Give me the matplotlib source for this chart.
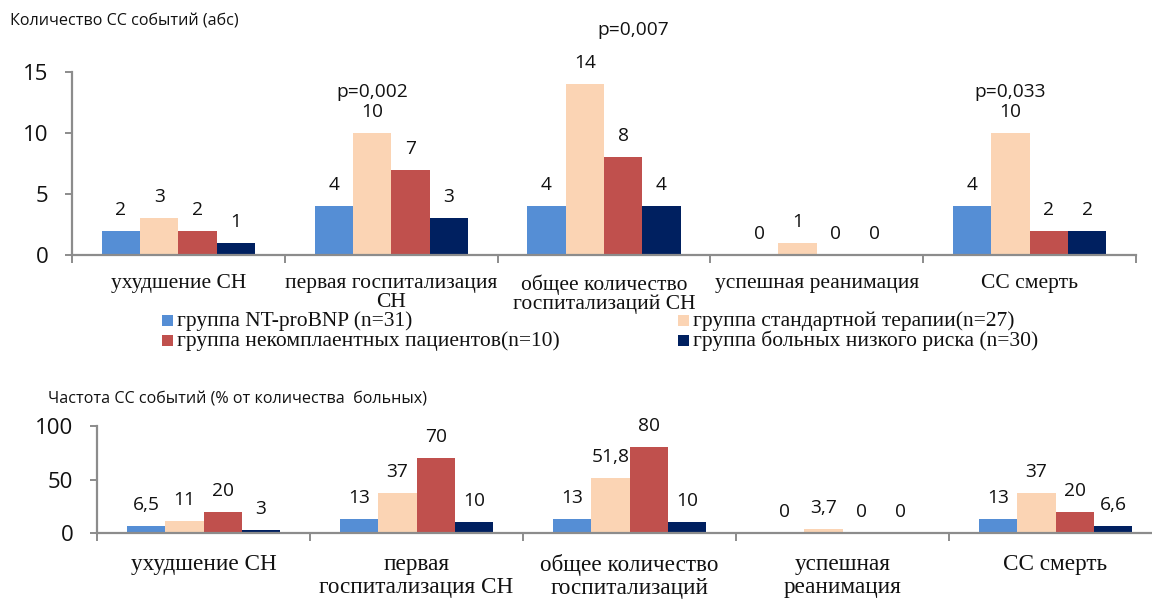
import matplotlib
matplotlib.use("Agg")
import matplotlib.pyplot as plt
from matplotlib.patches import Rectangle
import numpy as np

# ---- data ----
categories_abs = ["ухудшение СН", "первая госпитализация\nСН", "общее количество\nгоспитализаций СН",
                  "успешная реанимация", "СС смерть"]
categories_pct = ["ухудшение СН", "первая\nгоспитализация СН", "общее количество\nгоспитализаций",
                  "успешная\nреанимация", "СС смерть"]
series_names = ["группа NT-proBNP (n=31)", "группа стандартной терапии(n=27)",
                "группа некомплаентных пациентов(n=10)", "группа больных низкого риска (n=30)"]
series_colors = ["#558ED5", "#FBD4B4", "#C0504D", "#002060"]

counts_ntprobnp = [2, 4, 4, 0, 4]
counts_standard = [3, 10, 14, 1, 10]
counts_noncompliant = [2, 7, 8, 0, 2]
counts_lowrisk = [1, 3, 4, 0, 2]

pct_ntprobnp = [6.5, 13, 13, 0, 13]
pct_standard = [11, 37, 51.8, 3.7, 37]
pct_noncompliant = [20, 70, 80, 0, 20]
pct_lowrisk = [3, 10, 10, 0, 6.6]

p_values = {1: "p=0,002", 4: "p=0,033"}
p_total = "p=0,007"

title_abs = "Количество СС событий (абс)"
title_pct = "Частота СС событий (% от количества  больных)"

SANS = "Open Sans"
SERIF = "Liberation Serif"
AXIS_GRAY = "#8C8C8C"
TEXT = "#111111"
W, H = 1152, 601


def fmt(v):
    return f"{v:g}".replace(".", ",")


def style_axes(ax, ylim, yticks, xlabels, label_pad, label_size, linespacing):
    n = len(xlabels)
    ax.set_xlim(-0.5, n - 0.5)
    ax.set_ylim(*ylim)
    ax.set_yticks(yticks)
    for s in ("top", "right"):
        ax.spines[s].set_visible(False)
    for s in ("left", "bottom"):
        ax.spines[s].set_color(AXIS_GRAY)
        ax.spines[s].set_linewidth(1.6)
    ax.tick_params(axis="y", length=5, width=1.4, color=AXIS_GRAY, labelsize=16,
                   labelcolor=TEXT, pad=12)
    for lab in ax.get_yticklabels():
        lab.set_fontfamily(SANS)
    ax.set_xticks(range(n))
    ax.set_xticklabels(xlabels, fontfamily=SERIF, fontsize=label_size, linespacing=linespacing,
                       color=TEXT)
    ax.tick_params(axis="x", which="major", length=0, pad=label_pad)
    ax.set_xticks(np.arange(-0.5, n), minor=True)
    ax.tick_params(axis="x", which="minor", length=6, width=1.4, color=AXIS_GRAY)


def draw_bars(ax, values_list, label_offset):
    x = np.arange(len(values_list[0]))
    width = 0.18
    for i, (vals, color, name) in enumerate(zip(values_list, series_colors, series_names)):
        pos = x + (i - 1.5) * width
        ax.bar(pos, vals, width=width, color=color, label=name, linewidth=0)
        for px, v in zip(pos, vals):
            ax.annotate(fmt(v), (px, v), xytext=(0, label_offset), textcoords="offset points",
                        ha="center", va="baseline", fontsize=13.8, fontfamily=SANS,
                        color=TEXT, annotation_clip=False)


fig = plt.figure(figsize=(W / 100, H / 100), dpi=100)


def axes_px(left, right, top, bottom):
    return fig.add_axes([left / W, 1 - bottom / H, (right - left) / W, (bottom - top) / H])


# ---- absolute counts ----
ax1 = axes_px(72, 1136, 72, 255)
draw_bars(ax1, [counts_ntprobnp, counts_standard, counts_noncompliant, counts_lowrisk], 11.5)
style_axes(ax1, (0, 15), [0, 5, 10, 15], categories_abs, 14, 15.5, 0.95)
for cat, txt in p_values.items():
    ax1.annotate(txt, (cat - 0.09, counts_standard[cat]), xytext=(0, 26), textcoords="offset points",
                 ha="center", va="baseline", fontsize=13.8, fontfamily=SANS, color=TEXT,
                 annotation_clip=False)
fig.text(633 / W, 1 - 30 / H, p_total, ha="center", va="center", fontsize=13.8,
         fontfamily=SANS, color=TEXT)
fig.text(10 / W, 1 - 22 / H, title_abs, ha="left", va="center", fontsize=11.6,
         fontfamily=SANS, color=TEXT)

# legend: two columns of colour squares with captions
legend_cols = [(162, [0, 2]), (678, [1, 3])]
legend_rows_y = [321, 341]
for col_x, idxs in legend_cols:
    for row_y, idx in zip(legend_rows_y, idxs):
        fig.patches.append(Rectangle((col_x / W, 1 - (row_y + 5) / H), 11 / W, 11 / H,
                                     transform=fig.transFigure, facecolor=series_colors[idx],
                                     edgecolor="none"))
        fig.text((col_x + 15) / W, 1 - row_y / H, series_names[idx], ha="left", va="center",
                 fontsize=15.5, fontfamily=SERIF, color=TEXT)

# ---- percentages ----
ax2 = axes_px(97, 1162, 426, 533)
draw_bars(ax2, [pct_ntprobnp, pct_standard, pct_noncompliant, pct_lowrisk], 11.5)
style_axes(ax2, (0, 100), [0, 50, 100], categories_pct, 15, 16.7, 1.12)
fig.text(48 / W, 1 - 399 / H, title_pct, ha="left", va="center", fontsize=11.6,
         fontfamily=SANS, color=TEXT)

fig.savefig("out.png", dpi=100)
